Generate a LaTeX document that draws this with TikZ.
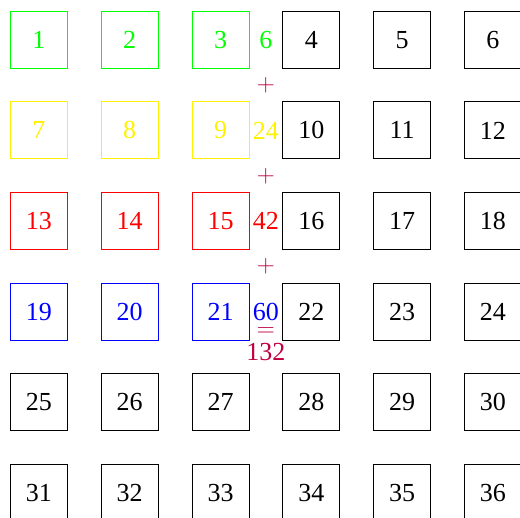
\documentclass[tikz,border=0pt]{standalone}
\usepackage{fontspec}
\setmainfont{Liberation Serif}
\begin{document}
\begin{tikzpicture}[x=1pt,y=-1pt,
  cell/.style={draw, line width=0.8pt, minimum size=57pt, inner sep=0pt, font=\fontsize{26}{30}\selectfont},
  lab/.style={inner sep=0pt, font=\fontsize{26}{30}\selectfont},
  op/.style={inner sep=0pt, text=purple, font=\fontsize{26}{30}\selectfont}]
\useasboundingbox (0,0) rectangle (520,518);
\foreach \r in {0,...,5} {
  \foreach \c in {0,...,5} {
    \pgfmathtruncatemacro{\n}{\r*6+\c+1}
    \ifnum\r=0 \ifnum\c<3 \def\col{green}\else\def\col{black}\fi
    \else\ifnum\r=1 \ifnum\c<3 \def\col{yellow}\else\def\col{black}\fi
    \else\ifnum\r=2 \ifnum\c<3 \def\col{red}\else\def\col{black}\fi
    \else\ifnum\r=3 \ifnum\c<3 \def\col{blue}\else\def\col{black}\fi
    \else \def\col{black}\fi\fi\fi\fi
    \node[cell, draw=\col, text=\col] (b\n) at ({38.9+90.8*\c},{39.8+90.6*\r}) {\n};
  }
}
\node[lab, text=green]  (s1) at (265.8,39.8) {6};
\node[lab, text=yellow] (s2) at (265.8,130.4) {24};
\node[lab, text=red]    (s3) at (265.8,221) {42};
\node[lab, text=blue]   (s4) at (265.8,311.6) {60};
\node[op] (p1) at (265.8,85.5) {$+$};
\node[op] (p2) at (265.8,176) {$+$};
\node[op] (p3) at (265.8,266.5) {$+$};
\node[op] (eq) at (265.8,332) {$=$};
\node[op] (tot) at (265.8,352) {132};
\end{tikzpicture}
\end{document}
